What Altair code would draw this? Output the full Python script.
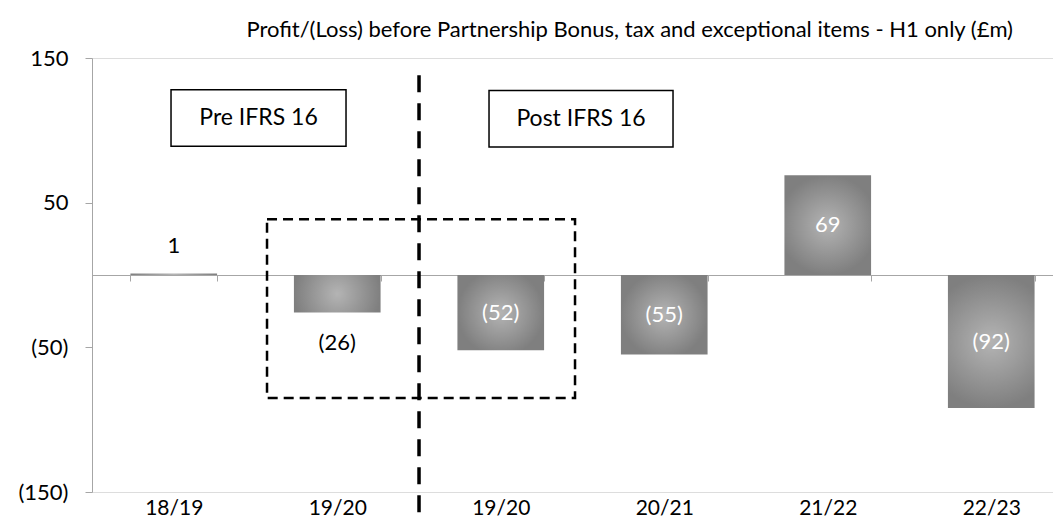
import altair as alt
import pandas as pd

# ---- data ----
categories = ["18/19", "19/20", "19/20 ", "20/21", "21/22", "22/23"]
values = [1, -26, -52, -55, 69, -92]
y_ticks = [150, 50, -50, -150]
title_text = "Profit/(Loss) before Partnership Bonus, tax and exceptional items - H1 only (£m)"

# annotation boxes: text, anchor category, pixel offsets from that band's start, y range
box_texts = ["Pre IFRS 16", "Post IFRS 16"]
box_cat = ["19/20", "20/21"]
box_x_off = [-122.9, -131.9]
box_x2_off = [52.1, 52.1]
box_text_off = [-35.4, -39.9]
box_y = [128, 127.5]
box_y2 = [89, 88.5]

# dashed comparison box and divider
cmp_cat = ["19/20", "19/20 "]
cmp_off = [-26.9, 117.6]
cmp_y = [38.5, -85]
divider_cat = "19/20 "
divider_off = -38.4
divider_y = [138, -185]

FONT = "Lato"
W, H = 961, 434
STEP = 163.5

df = pd.DataFrame({"cat": categories, "v": values})

xscale = alt.Scale(domain=categories, range=[0, STEP * 6], paddingInner=0.47, paddingOuter=0.235)
yscale = alt.Scale(domain=[-150, 150], nice=False)

grad = alt.Gradient(
    gradient="radial",
    stops=[alt.GradientStop(color="#b4b4b4", offset=0), alt.GradientStop(color="#7f7f7f", offset=1)],
    x1=0.5, y1=0.5, r1=0, x2=0.5, y2=0.5, r2=0.5,
)

x_enc = alt.X(
    "cat:N", scale=xscale, sort=categories, title=None,
    axis=alt.Axis(
        orient="bottom", offset=-H / 2, domain=True, domainColor="#a6a6a6", domainWidth=1.2,
        ticks=True, tickBand="extent", tickSize=6, tickColor="#a6a6a6",
        labelPadding=216, labelAngle=0, labelExpr="trim(datum.label)",
        labelFont=FONT, labelFontSize=21, labelColor="black", grid=False,
    ),
)
y_enc = alt.Y(
    "v:Q", scale=yscale, title=None,
    axis=alt.Axis(
        values=y_ticks, grid=False, domainColor="#a6a6a6", tickColor="#a6a6a6", tickSize=7,
        labelExpr="datum.value < 0 ? '(' + abs(datum.value) + ')' : '' + datum.value",
        labelFont=FONT, labelFontSize=22, labelColor="black", labelPadding=17,
    ),
)

bars = alt.Chart(df).mark_bar(color=grad).encode(x=x_enc, y=y_enc)

lab = alt.Chart(df).transform_calculate(
    lbl="datum.v < 0 ? '(' + abs(datum.v) + ')' : '' + datum.v",
    mid="datum.v / 2",
)
inside = lab.transform_filter("abs(datum.v) >= 30").mark_text(
    color="white", font=FONT, fontSize=22, baseline="middle"
).encode(x=alt.X("cat:N", sort=categories), y=alt.Y("mid:Q"), text="lbl:N")
out_pos = lab.transform_filter("abs(datum.v) < 30 && datum.v >= 0").mark_text(
    color="black", font=FONT, fontSize=22, baseline="middle", dy=-28
).encode(x=alt.X("cat:N", sort=categories), y=alt.Y("v:Q"), text="lbl:N")
out_neg = lab.transform_filter("abs(datum.v) < 30 && datum.v < 0").mark_text(
    color="black", font=FONT, fontSize=22, baseline="middle", dy=30
).encode(x=alt.X("cat:N", sort=categories), y=alt.Y("v:Q"), text="lbl:N")

boxdf = pd.DataFrame({"t": box_texts, "c": box_cat, "y": box_y, "y2": box_y2})
boxes = alt.layer(*[
    alt.Chart(boxdf.iloc[[i]]).mark_rect(
        fill="white", stroke="black", strokeWidth=1.5,
        xOffset=box_x_off[i], x2Offset=box_x2_off[i],
    ).encode(
        x=alt.X("c:N", bandPosition=0),
        x2=alt.X2("c:N", bandPosition=0),
        y=alt.Y("y:Q"), y2="y2:Q",
    )
    for i in range(2)
])
box_txt = alt.layer(*[
    alt.Chart(boxdf.iloc[[i]]).mark_text(
        font=FONT, fontSize=23, color="black", baseline="middle", xOffset=box_text_off[i]
    ).encode(
        x=alt.X("c:N", bandPosition=0),
        y=alt.Y("ymid:Q"), text="t:N",
    ).transform_calculate(ymid="(datum.y + datum.y2) / 2")
    for i in range(2)
])

cmpdf = pd.DataFrame({"c1": [cmp_cat[0]], "c2": [cmp_cat[1]], "y": [cmp_y[0]], "y2": [cmp_y[1]]})
cmp_box = alt.Chart(cmpdf).mark_rect(
    filled=False, stroke="black", strokeWidth=2.5, strokeDash=[10, 6],
    xOffset=cmp_off[0], x2Offset=cmp_off[1],
).encode(
    x=alt.X("c1:N", bandPosition=0),
    x2=alt.X2("c2:N", bandPosition=0),
    y=alt.Y("y:Q"), y2="y2:Q",
)

divdf = pd.DataFrame({"c": [divider_cat], "y": [divider_y[0]], "y2": [divider_y[1]]})
divider = alt.Chart(divdf).mark_rule(
    color="black", strokeWidth=3.5, strokeDash=[17, 11], xOffset=divider_off
).encode(
    x=alt.X("c:N", bandPosition=0),
    y=alt.Y("y:Q"), y2="y2:Q",
)

chart = alt.layer(
    bars, inside, out_pos, out_neg, cmp_box, divider, boxes, box_txt
).properties(
    width=W, height=H,
    title=alt.TitleParams(title_text, font=FONT, fontSize=22, fontWeight="normal", color="black",
                          anchor="end", frame="group", dx=-40, offset=5),
    autosize=alt.AutoSizeParams(type="none"),
    padding={"left": 84, "top": 50, "right": 0, "bottom": 27},
).configure_view(stroke=None).configure(background="white")

chart.save("out.html", embed_options={"renderer": "svg", "actions": False})
